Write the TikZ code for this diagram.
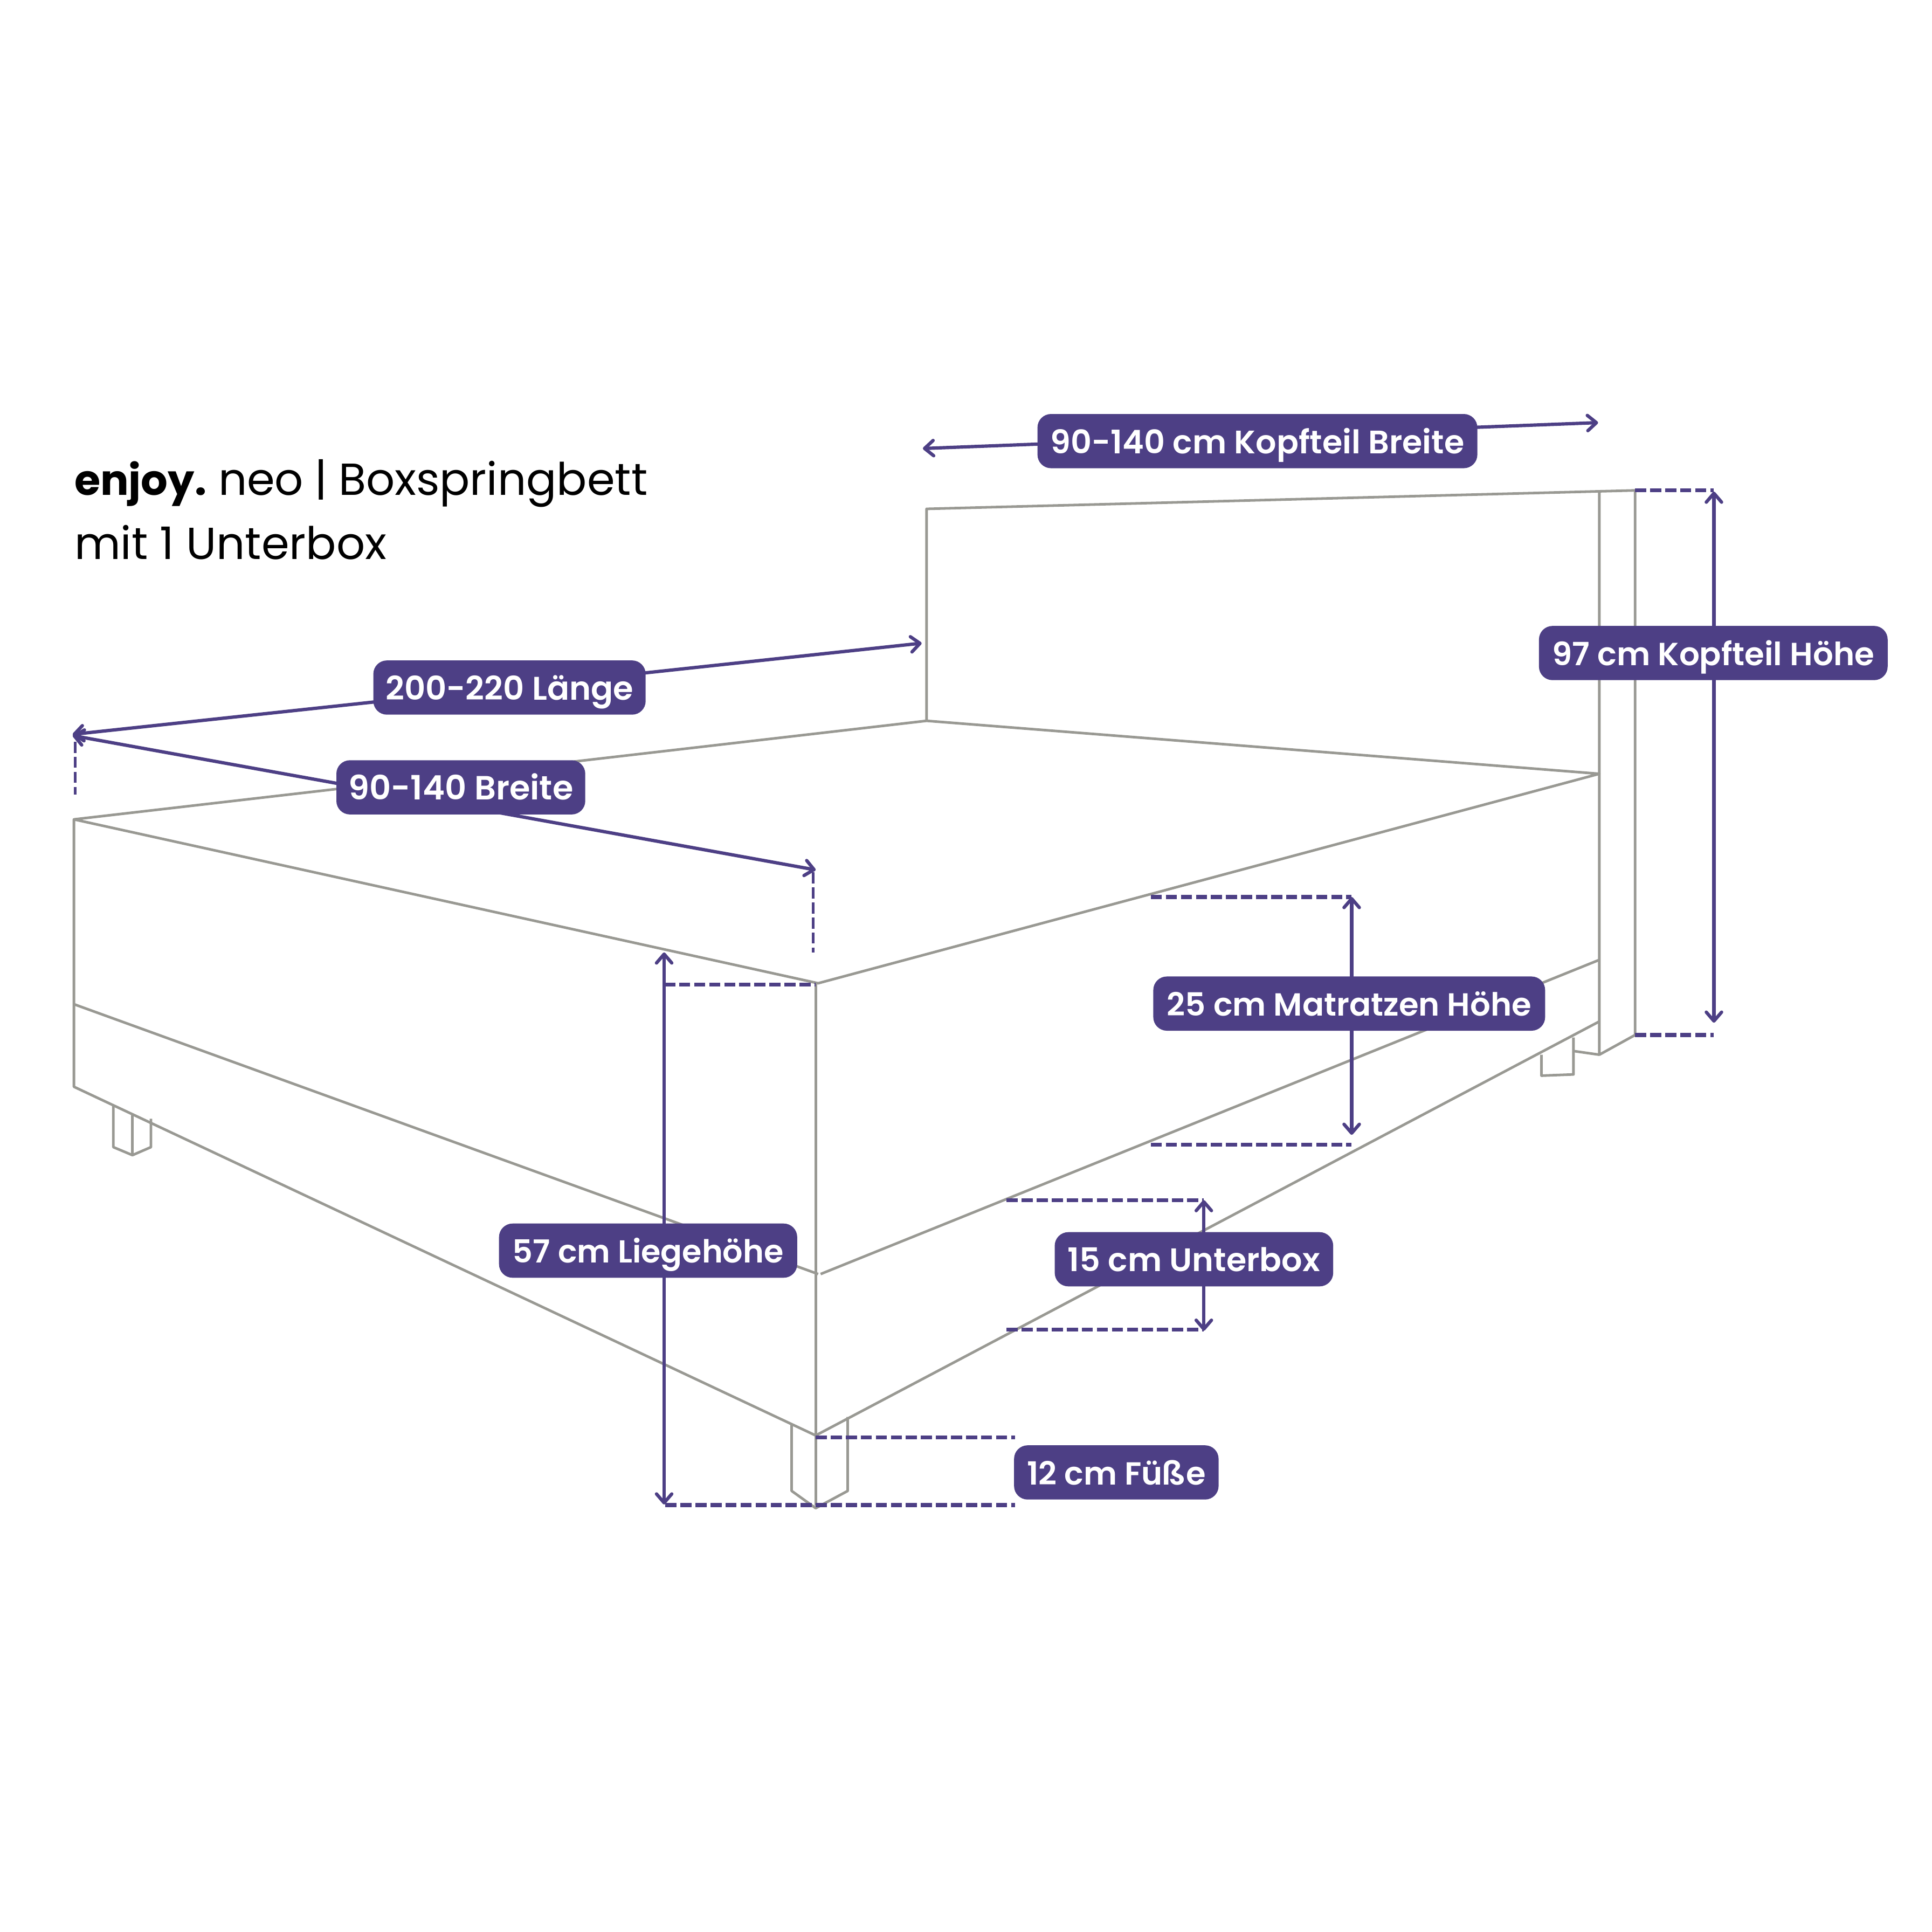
\documentclass[tikz,border=0pt]{standalone}
\usepackage{fontspec}
\setmainfont{Poppins}
\newfontfamily\labfont{Poppins SemiBold}
\usetikzlibrary{arrows.meta}
\definecolor{bedgray}{HTML}{999993}
\definecolor{dimviolet}{HTML}{4D3F85}
\tikzset{
  bedline/.style={draw=bedgray,line width=1.05pt,line join=round},
  dimline/.style={draw=dimviolet,line width=1.35pt,{Straight Barb[length=3.6pt,width=6.2pt,round]}-{Straight Barb[length=3.6pt,width=6.2pt,round]}},
  dashline/.style={draw=dimviolet,line width=1.55pt,dash pattern=on 4.5pt off 1.6pt},
  dimlabel/.style={fill=dimviolet,text=white,rounded corners=5.5pt,inner sep=0pt,font=\labfont\fontsize{#1}{15}\selectfont,minimum height=22pt,text height=16pt,text depth=6pt,anchor=center},
  titletext/.style={anchor=base west,inner sep=0pt,font=\fontsize{18.2}{22}\selectfont,text=black}
}
\begin{document}
\begin{tikzpicture}[x=0.5pt,y=-0.5pt]
\useasboundingbox (0,0) rectangle (1568,1568);
\fill[white] (0,0) rectangle (1568,1568);
% bed
\coordinate (hbL) at (752,585);
\coordinate (hbTL) at (752,413);
\coordinate (hbTR) at (1327,398);
\coordinate (hbInTop) at (1298,399);
\coordinate (hbInBot) at (1298,856);
\coordinate (hbBack) at (1327,840);
\coordinate (mBL) at (60,665);
\coordinate (mBR) at (1298,628);
\coordinate (mFront) at (664,798);
\coordinate (bL) at (60,815);
\coordinate (bBot) at (60,882);
\coordinate (front) at (662,1165);
\coordinate (botR) at (1298,829);
\coordinate (midFront) at (664,1034);
\coordinate (midR) at (1298,779);
\draw[bedline] (hbL) -- (hbTL) -- (hbTR) -- (hbBack) -- (hbInBot) -- (hbInTop);
\draw[bedline] (mBL) -- (hbL) -- (mBR) -- (mFront) -- (mBL) -- (bBot) -- (front) -- (botR);
\draw[bedline] (bL) -- (midFront);
\draw[bedline] (666,1034) -- (midR);
\draw[bedline] (662,798) -- (662,1222);
% feet
\draw[bedline] (642.5,1156) -- (642.5,1210) -- (662,1224) -- (688,1210) -- (688,1150);
\draw[bedline] (92,897) -- (92,931) -- (107.5,937.5) -- (122.5,931) -- (122.5,908);
\draw[bedline] (107.5,905) -- (107.5,937.5);
\draw[bedline] (1251,856) -- (1251,873) -- (1277,872) -- (1277,842);
\draw[bedline] (1277,853) -- (1298,856);
% dashed guides
\coordinate (d1a) at (1327,398); \coordinate (d1b) at (1391,398);
\coordinate (d2a) at (1327,840); \coordinate (d2b) at (1391,840);
\coordinate (d3a) at (934,728); \coordinate (d3b) at (1097,728);
\coordinate (d4a) at (934,929); \coordinate (d4b) at (1097,929);
\coordinate (d5a) at (817,974); \coordinate (d5b) at (977,974);
\coordinate (d6a) at (817,1079); \coordinate (d6b) at (977,1079);
\coordinate (d7a) at (539,799); \coordinate (d7b) at (662,799);
\coordinate (d8a) at (662,1166.5); \coordinate (d8b) at (824,1166.5);
\coordinate (d9a) at (540,1221.5); \coordinate (d9b) at (824,1221.5);
\coordinate (d10a) at (61,602); \coordinate (d10b) at (61,645);
\coordinate (d11a) at (660,708); \coordinate (d11b) at (660,773);
\foreach \a/\b in {d1a/d1b,d2a/d2b,d3a/d3b,d4a/d4b,d5a/d5b,d6a/d6b,d7a/d7b,d8a/d8b,d9a/d9b}
  \draw[dashline] (\a) -- (\b);
\draw[dashline,line width=1.25pt] (d10a) -- (d10b);
\draw[dashline,line width=1.25pt] (d11a) -- (d11b);
% dimension arrows
\coordinate (kbL) at (749,364); \coordinate (kbR) at (1297,343);
\coordinate (khT) at (1391,399); \coordinate (khB) at (1391,830);
\coordinate (laL) at (59,596); \coordinate (laR) at (748,522);
\coordinate (brL) at (59,597); \coordinate (brR) at (662,706);
\coordinate (maT) at (1097,728); \coordinate (maB) at (1097,921);
\coordinate (ubT) at (977,974); \coordinate (ubB) at (977,1080);
\coordinate (liT) at (539,773); \coordinate (liB) at (539,1221);
\draw[dimline] (kbL) -- (kbR);
\draw[dimline] (khT) -- (khB);
\draw[dimline] (laL) -- (laR);
\draw[dimline] (brL) -- (brR);
\draw[dimline] (maT) -- (maB);
\draw[dimline] (ubT) -- (ubB);
\draw[dimline] (liT) -- (liB);
% labels
\node[dimlabel=13.2,minimum width=178.5pt] (kbLabel) at (1020.5,358) {90-140 cm Kopfteil Breite};
\node[dimlabel=13.0,minimum width=141.5pt] (khLabel) at (1390.5,530) {97 cm Kopfteil Höhe};
\node[dimlabel=13.27,minimum width=110.5pt] (laLabel) at (413.5,558) {200-220 Länge};
\node[dimlabel=13.6,minimum width=101pt] (brLabel) at (374,639) {90-140 Breite};
\node[dimlabel=12.96,minimum width=159pt] (maLabel) at (1095,814.5) {25 cm Matratzen Höhe};
\node[dimlabel=13.2,minimum width=113pt] (ubLabel) at (969,1022) {15 cm Unterbox};
\node[dimlabel=12.87,minimum width=121pt] (liLabel) at (526,1015) {57 cm Liegehöhe};
\node[dimlabel=12.95,minimum width=83pt] (fuLabel) at (906,1195) {12 cm Füße};
% title
\node[titletext] (title1) at (60,402) {\spaceskip=3.2pt{\fontsize{17.1}{22}\selectfont\textbf{enjoy.}} neo\hspace{1.25pt} |\hspace{1.25pt} Boxspringbett};
\node[titletext] (title2) at (60,454) {mit 1 Unterbox};
\end{tikzpicture}
\end{document}
